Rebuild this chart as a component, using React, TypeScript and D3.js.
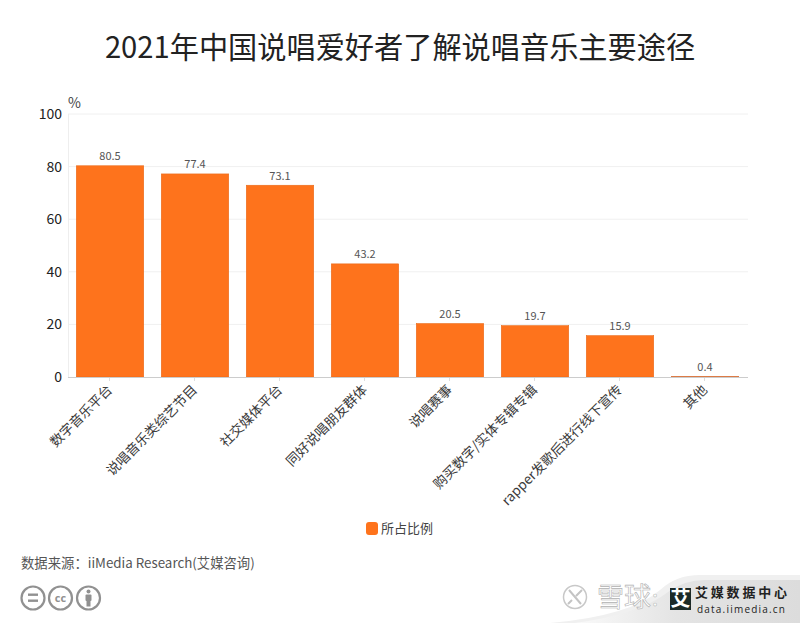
import React from "react";
import * as d3 from "d3";

const titleText = "2021年中国说唱爱好者了解说唱音乐主要途径";
const categories = ["数字音乐平台", "说唱音乐类综艺节目", "社交媒体平台", "同好说唱朋友群体", "说唱赛事", "购买数字/实体专辑专辑", "rapper发歌后进行线下宣传", "其他"];
const shares = [80.5, 77.4, 73.1, 43.2, 20.5, 19.7, 15.9, 0.4];
const yTicks = [0, 20, 40, 60, 80, 100];
const seriesName = "所占比例";
const sourceText = "数据来源：iiMedia Research(艾媒咨询)";

const FONT = "'Noto Sans CJK SC','Open Sans',sans-serif";
const ORANGE = "#fe731c";

export default function App() {
  const x = d3.scaleBand<string>().domain(categories).range([67.5, 747.5]).paddingInner(0.2).paddingOuter(0.1);
  const full = d3.scaleBand<string>().domain(categories).range([68, 748]);
  const y = d3.scaleLinear().domain([0, 100]).range([377, 114]);
  return (
    <svg width={800} height={623} viewBox="0 0 800 623" style={{ position: "absolute", left: 0, top: 0, background: "#fff" }} fontFamily={FONT}>
      <defs>
        <linearGradient id="wm" x1="0" x2="1" y1="0" y2="0">
          <stop offset="0" stopColor="#fafafa" />
          <stop offset="0.45" stopColor="#e4e4e4" />
          <stop offset="1" stopColor="#dcdcdc" />
        </linearGradient>
      </defs>
      <text x={400} y={58} textAnchor="middle" fontSize={29.2} fill="#222">{titleText}</text>

      {yTicks.slice(1).map(t => (
        <line key={t} x1={68} x2={748} y1={y(t)} y2={y(t)} stroke="#f0f0f0" />
      ))}
      <line x1={68.5} x2={68.5} y1={114} y2={377} stroke="#eeeeee" />
      {yTicks.map(t => (
        <text key={t} x={62} y={y(t) + 5} textAnchor="end" fontSize={14} fill="#222">{t}</text>
      ))}
      <text x={68} y={108} fontSize={14} fill="#444">%</text>

      {categories.map((c, i) => (
        <g key={c}>
          <rect x={x(c)! + 0.3} y={y(shares[i]) + 0.5} width={x.bandwidth() - 0.6} height={y(0) - y(shares[i]) - 0.5} fill={ORANGE} stroke={i === 7 ? "#d9763f" : "#ea6a1a"} strokeWidth={0.6} />
          <text x={x(c)! + x.bandwidth() / 2} y={y(shares[i]) - 5} textAnchor="middle" fontSize={11} fill="#555">{shares[i]}</text>
          <line x1={full(c)! + full.bandwidth() / 2 - 1} x2={full(c)! + full.bandwidth() / 2 - 1} y1={377} y2={381} stroke="#dddddd" />
          <text
            transform={`translate(${full(c)! + full.bandwidth() / 2},${388}) rotate(-45)`}
            textAnchor="end"
            dominantBaseline="middle"
            fontSize={13.5}
            fill="#3a3a3a"
          >{c}</text>
        </g>
      ))}
      <line x1={68} x2={748} y1={377.5} y2={377.5} stroke="#cccccc" />

      <rect x={366} y={522} width={12} height={13} rx={3} fill={ORANGE} />
      <text x={381} y={533} fontSize={13} fill="#444">{seriesName}</text>

      <text x={21} y={568} fontSize={13.35} fill="#555">{sourceText}</text>

      <g fill="none" stroke="#919191" strokeWidth={2.2}>
        <circle cx={33} cy={598} r={11.5} />
        <circle cx={60.5} cy={598} r={11.5} />
        <circle cx={88.5} cy={598} r={11.5} />
      </g>
      <g fill="#919191">
        <rect x={28} y={593.5} width={10} height={2.4} />
        <rect x={28} y={599.5} width={10} height={2.4} />
        <circle cx={88.5} cy={591.5} r={2} />
        <rect x={85.5} y={594.5} width={6} height={6.5} rx={1} />
        <rect x={86.5} y={600} width={4} height={6.5} />
      </g>
      <text x={60.5} y={602} textAnchor="middle" fontSize={11} fontWeight={700} fill="#919191" fontFamily="'Open Sans',sans-serif">cc</text>

      <path d="M550,623 Q630,616 660,590 Q676,575 700,575 L800,575 L800,623 Z" fill="#f0f0f0" />
      <path d="M575,623 Q640,614 668,592 Q684,580 705,580 L800,580 L800,623 Z" fill="url(#wm)" />
      <circle cx={575} cy={597} r={11.5} fill="#fff" stroke="#c8c8c8" strokeWidth={1.5} />
      <path d="M569,590 L581,604 M582,590 L576,596 M568,604 L572,600" stroke="#c4c4c4" strokeWidth={2} fill="none" />
      <text x={597} y={607} fontSize={27} fill="#fff" stroke="#b0b0b0" strokeWidth={0.6}>雪球</text>
      <text x={652} y={606} fontSize={22} fill="#fff" stroke="#b0b0b0" strokeWidth={0.5}>:</text>
      <rect x={670} y={588} width={21} height={22} fill="#1c2a28" />
      <text x={680.5} y={606} textAnchor="middle" fontSize={20} fontWeight={700} fill="#fff">艾</text>
      <text x={695} y={597} fontSize={13} fontWeight={700} fill="#222" textLength={92}>艾媒数据中心</text>
      <text x={697} y={613} fontSize={10} fill="#222" textLength={88} fontFamily="'Open Sans',sans-serif">data.iimedia.cn</text>
    </svg>
  );
}
